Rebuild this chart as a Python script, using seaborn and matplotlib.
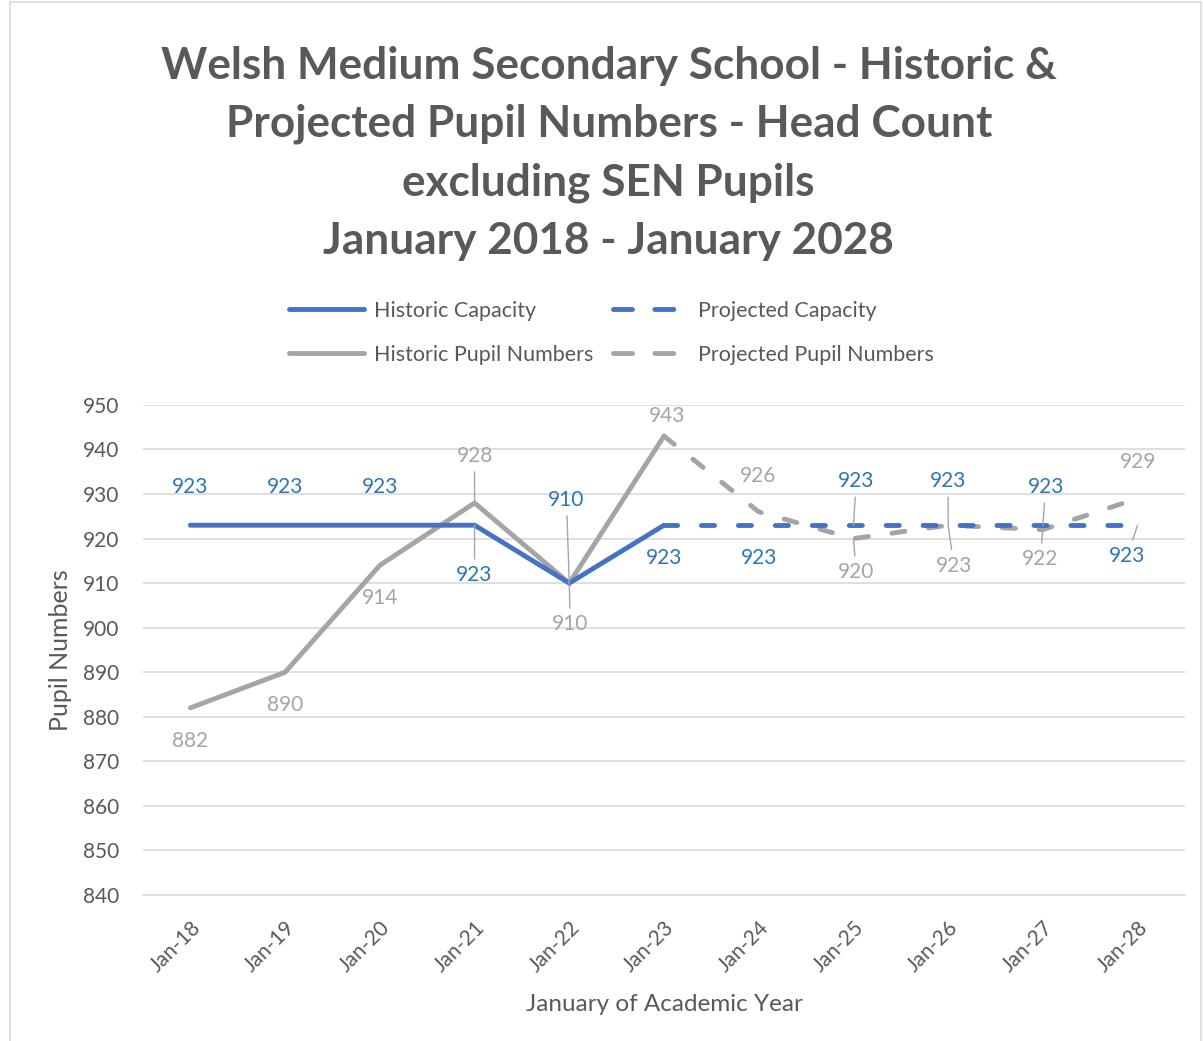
import matplotlib
matplotlib.use("Agg")
import matplotlib.pyplot as plt
import seaborn as sns
import pandas as pd
from matplotlib.patches import Rectangle
from matplotlib.lines import Line2D

# ---- data ----
categories = ["Jan-18", "Jan-19", "Jan-20", "Jan-21", "Jan-22", "Jan-23",
              "Jan-24", "Jan-25", "Jan-26", "Jan-27", "Jan-28"]
historic_capacity = [923, 923, 923, 923, 910, 923]
projected_capacity = [923, 923, 923, 923, 923, 923]          # Jan-23 .. Jan-28
historic_pupils = [882, 890, 914, 928, 910, 943]
projected_pupils = [943, 926, 920, 923, 922, 929]            # Jan-23 .. Jan-28

hist_idx = list(range(0, 6))
proj_idx = list(range(5, 11))

BLUE = "#4472C4"
GREY = "#A5A5A5"
BLUE_TXT = "#2E75B6"
GREY_TXT = "#A5A5A5"
DARK = "#595959"

sns.set_theme(style="white")
plt.rcParams["font.family"] = ["Lato", "DejaVu Sans"]

fig = plt.figure(figsize=(12.03, 10.41), dpi=100)
ax = fig.add_axes([0.1189, 0.1403, 0.9850 - 0.1189, 0.6110 - 0.1403])

df_hc = pd.DataFrame({"x": hist_idx, "y": historic_capacity})
df_pc = pd.DataFrame({"x": proj_idx, "y": projected_capacity})
df_hp = pd.DataFrame({"x": hist_idx, "y": historic_pupils})
df_pp = pd.DataFrame({"x": proj_idx, "y": projected_pupils})

LW = 3.5
DASH = (2.7, 4.9)
LEG_DASH = (3.9, 4.6)
sns.lineplot(data=df_hp, x="x", y="y", ax=ax, color=GREY, lw=LW, zorder=3)
sns.lineplot(data=df_hc, x="x", y="y", ax=ax, color=BLUE, lw=LW, zorder=4)
l_pc = sns.lineplot(data=df_pc, x="x", y="y", ax=ax, color=BLUE, lw=LW, zorder=4).lines[-1]
l_pc.set_dashes(DASH); l_pc.set_dash_capstyle("round")
l_pp = sns.lineplot(data=df_pp, x="x", y="y", ax=ax, color=GREY, lw=LW, zorder=3).lines[-1]
l_pp.set_dashes(DASH); l_pp.set_dash_capstyle("round")
for ln in ax.lines:
    ln.set_solid_capstyle("round")
    ln.set_solid_joinstyle("miter")

ax.set_xlim(-0.5, 10.5)
ax.set_ylim(840, 950)
ax.set_yticks(range(840, 951, 10))
ax.set_xticks(range(len(categories)))
ax.set_xticklabels(categories, rotation=45, ha="right", rotation_mode="anchor",
                   fontsize=15, color=DARK)
ax.tick_params(axis="x", which="major", length=0, pad=16)
ax.set_xticks([i - 0.5 for i in range(len(categories) + 1)], minor=True)
ax.tick_params(axis="x", which="minor", length=8, color="#D9D9D9", width=1.2)
ax.tick_params(axis="y", length=0, labelsize=15, labelcolor=DARK, pad=17)
ax.grid(axis="y", color="#D9D9D9", lw=1.2)
ax.set_axisbelow(True)
for s in ["top", "right", "left"]:
    ax.spines[s].set_visible(False)
ax.spines["bottom"].set_color("#D9D9D9")
ax.spines["bottom"].set_linewidth(1.2)
ax.set_xlabel("January of Academic Year", fontsize=17.5, color=DARK, labelpad=13)
ax.set_ylabel("Pupil Numbers", fontsize=18, color=DARK, labelpad=8)

# ---- data labels: offsets from the point in data units, and whether a leader line is drawn ----
hc_off = [(0, 8.6), (0, 8.6), (0, 8.6), (0, -11.2), (-0.03, 18.7), (0, -7.3)]
pc_off = [None, (0, -7.3), (0.03, 9.9), (0, 9.9), (0.03, 8.6), (-0.11, -6.9)]
hp_off = [(0, -7.4), (0, -7.3), (0, -7.3), (0, 10.6), (0.01, -9.2), (0.03, 4.5)]
pp_off = [None, (-0.01, 8.1), (0.03, -7.5), (0.06, -9.1), (-0.03, -6.6), (0, 8.3)]
hc_lead = [False, False, False, True, True, False]
pc_lead = [False, False, True, True, True, True]
hp_lead = [False, False, False, True, True, False]
pp_lead = [False, False, True, True, True, False]


def add_labels(xs, vals, offs, leads, color):
    for x, v, off, lead in zip(xs, vals, offs, leads):
        if off is None:
            continue
        kw = {}
        if lead:
            kw["arrowprops"] = dict(arrowstyle="-", color="#A6A6A6", lw=1.0,
                                    shrinkA=2, shrinkB=0)
        ax.annotate(str(v), xy=(x, v), xytext=(x + off[0], v + off[1]),
                    textcoords="data", ha="center", va="center",
                    fontsize=15, color=color, zorder=6, **kw)


add_labels(hist_idx, historic_capacity, hc_off, hc_lead, BLUE_TXT)
add_labels(proj_idx, projected_capacity, pc_off, pc_lead, BLUE_TXT)
add_labels(hist_idx, historic_pupils, hp_off, hp_lead, GREY_TXT)
add_labels(proj_idx, projected_pupils, pp_off, pp_lead, GREY_TXT)

# ---- legend ----
handles = [
    Line2D([], [], color=BLUE, lw=LW, solid_capstyle="round"),
    Line2D([], [], color=GREY, lw=LW, solid_capstyle="round"),
    Line2D([], [], color=BLUE, lw=LW, dashes=LEG_DASH, dash_capstyle="round"),
    Line2D([], [], color=GREY, lw=LW, dashes=LEG_DASH, dash_capstyle="round"),
]
labels = ["Historic Capacity", "Historic Pupil Numbers",
          "Projected Capacity", "Projected Pupil Numbers"]
leg = fig.legend(handles, labels, ncol=2, loc="center", bbox_to_anchor=(0.508, 0.6805),
                 frameon=False, fontsize=15.5, handlelength=3.5, handletextpad=0.45,
                 columnspacing=0.9, labelspacing=1.12, labelcolor=DARK)

# ---- title ----
fig.text(0.506, 0.853,
         "Welsh Medium Secondary School - Historic &\n"
         "Projected Pupil Numbers - Head Count\n"
         "excluding SEN Pupils\n"
         "January 2018 - January 2028",
         ha="center", va="center", fontsize=31.8, fontweight="bold",
         color=DARK, linespacing=1.545)

# border
fig.patches.append(Rectangle((0.008, -0.01), 0.99, 1.008, transform=fig.transFigure,
                             fill=False, edgecolor="#D9D9D9", lw=1.2))

fig.savefig("out.png", dpi=100)
